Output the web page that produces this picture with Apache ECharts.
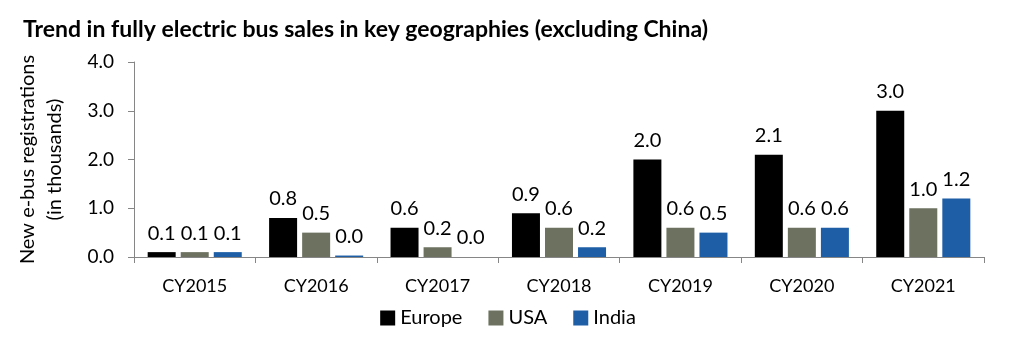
<!DOCTYPE html>
<html><head><meta charset="utf-8">
<script src="https://cdn.jsdelivr.net/npm/echarts@6/dist/echarts.min.js"></script>
<style>html,body{margin:0;padding:0;background:#fff}#c{width:1016px;height:342px}</style>
</head><body><div id="c"></div>
<script>
const categories = ['CY2015','CY2016','CY2017','CY2018','CY2019','CY2020','CY2021'];
const europe = [0.1, 0.8, 0.6, 0.9, 2.0, 2.1, 3.0];
const usa = [0.1, 0.5, 0.2, 0.6, 0.6, 0.6, 1.0];
const india = [0.1, 0.03, 0.0, 0.2, 0.5, 0.6, 1.2];
const yTicks = [0, 1, 2, 3, 4];

const FONT = 'Lato';
const chart = echarts.init(document.getElementById('c'));
const lbl = {show:true, position:'top', distance:9, color:'#000', fontFamily:FONT, fontSize:20,
  formatter: p => p.value.toFixed(1)};
function s(name, data, color){
  return {name, type:'bar', data, barWidth:28, barGap:'18%', itemStyle:{color}, label:lbl};
}
chart.setOption({
  animation:false,
  title:{text:'Trend in fully electric bus sales in key geographies (excluding China)', left:18, top:13,
    textStyle:{fontFamily:FONT, fontWeight:'bold', fontSize:23, color:'#000'}},
  grid:{left:134, right:32, top:62, bottom:85},
  legend:{bottom:9, left:'center', itemWidth:15, itemHeight:15, itemGap:26, icon:'rect',
    textStyle:{fontFamily:FONT, fontSize:20, color:'#000'}},
  xAxis:{type:'category', data:categories,
    axisLine:{lineStyle:{color:'#868686'}},
    axisTick:{show:true, length:6, lineStyle:{color:'#868686'}},
    axisLabel:{color:'#000', fontFamily:FONT, fontSize:18, margin:20}},
  yAxis:{type:'value', min:yTicks[0], max:yTicks[yTicks.length-1], interval:1,
    name:'New e-bus registrations\n(in thousands)', nameLocation:'middle', nameGap:66, nameRotate:90,
    nameTextStyle:{fontFamily:FONT, fontSize:20, color:'#000', lineHeight:27},
    axisLine:{show:true, lineStyle:{color:'#868686'}},
    axisTick:{show:true, length:6, lineStyle:{color:'#868686'}},
    splitLine:{show:false},
    axisLabel:{color:'#000', fontFamily:FONT, fontSize:19, margin:20, formatter:v=>v.toFixed(1)}},
  series:[s('Europe', europe, '#000000'), s('USA', usa, '#6d7260'), s('India', india, '#1d5ea6')]
});
</script></body></html>
